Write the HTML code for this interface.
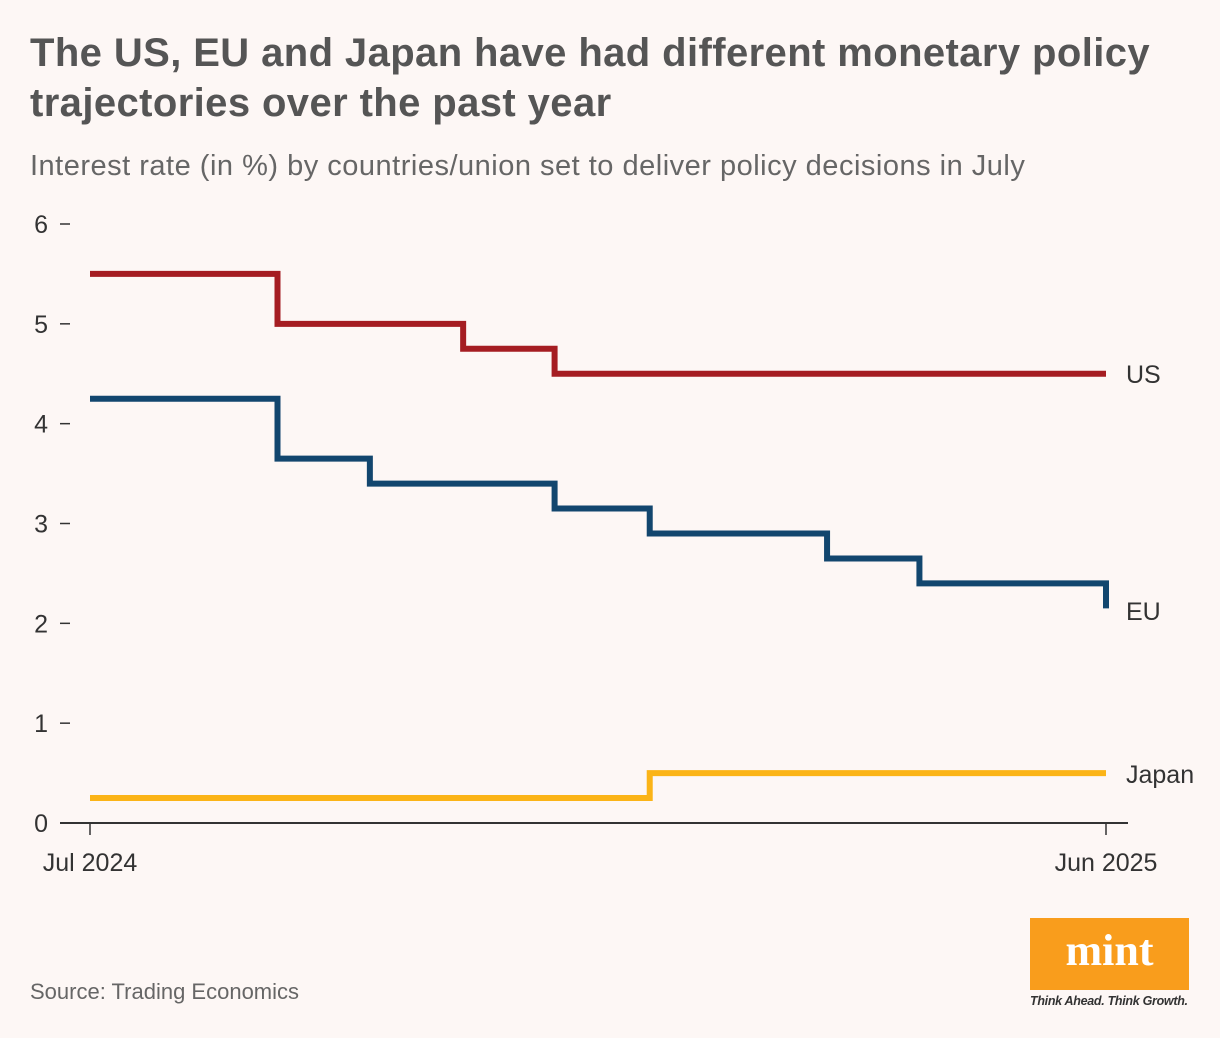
<!DOCTYPE html>
<html><head><meta charset="utf-8"><style>
body{margin:0;background:#fdf7f5;font-family:"Liberation Sans",sans-serif;}
#wrap{position:relative;width:1220px;height:1038px;overflow:hidden;background:#fdf7f5;}
h1{position:absolute;left:30px;top:28px;margin:0;font-size:40px;line-height:50px;font-weight:bold;color:#555;letter-spacing:0.4px;width:1190px;}
.sub{position:absolute;left:30px;top:150px;font-size:29px;color:#666;letter-spacing:0.5px;white-space:nowrap;}
.src{position:absolute;left:30px;top:979px;font-size:22px;color:#666;}
.logo{position:absolute;left:1030px;top:918px;width:159px;height:72px;background:#f99d1c;color:#fff;font-family:"Liberation Serif",serif;font-weight:bold;font-size:44px;text-align:center;line-height:66px;}
.tag{position:absolute;left:1030px;top:994px;font-size:12.5px;font-style:italic;font-weight:bold;color:#333;letter-spacing:-0.3px;}
svg{position:absolute;left:0;top:0;}
</style></head><body>
<div id="wrap">
<h1>The US, EU and Japan have had different monetary policy trajectories over the past year</h1>
<div class="sub">Interest rate (in %) by countries/union set to deliver policy decisions in July</div>
<svg id="chart" width="1220" height="1038"></svg>
<div class="src">Source: Trading Economics</div>
<div class="logo">mint</div>
<div class="tag">Think Ahead. Think Growth.</div>
</div>
<script>
const yTicks=[0,1,2,3,4,5,6];
const xTickLabels=["Jul 2024","Jun 2025"];
const xTickValues=[0,11];
const usX=[0,2.03,4.04,5.03,11];
const usY=[5.5,5.0,4.75,4.5,4.5];
const euX=[0,2.03,3.03,5.03,6.06,7.98,8.98,11,11];
const euY=[4.25,3.65,3.4,3.15,2.9,2.65,2.4,2.4,2.15];
const jpX=[0,6.06,11];
const jpY=[0.25,0.5,0.5];

const svg=document.getElementById('chart');
const NS='http://www.w3.org/2000/svg';
const xs=v=>90+v*(1106-90)/11;
const ys=v=>823-v*(823-224)/6;
function mk(t,a){const e=document.createElementNS(NS,t);for(const k in a)e.setAttribute(k,a[k]);svg.appendChild(e);return e;}

yTicks.forEach(t=>{
  const l=mk('line',{x1:60,x2:70,y1:ys(t),y2:ys(t),stroke:'#333','stroke-width':1.5});
  
  
  const tx=mk('text',{x:48,y:ys(t)+9,'text-anchor':'end','font-size':25,fill:'#333','font-family':'Liberation Sans, sans-serif'});
  tx.textContent=t;
  
  
});
const ax=mk('line',{x1:60,x2:1128,y1:823,y2:823,stroke:'#333','stroke-width':2});


xTickValues.forEach((v,i)=>{
  const l=mk('line',{x1:xs(v),x2:xs(v),y1:823,y2:835,stroke:'#333','stroke-width':1.5});
  
  
  const tx=mk('text',{x:xs(v),y:871,'text-anchor':'middle','font-size':25,fill:'#333','font-family':'Liberation Sans, sans-serif'});
  tx.textContent=xTickLabels[i];
  
  
});
function step(X,Y,color,name,label,ly){
  let d='M'+xs(X[0])+','+ys(Y[0]);
  for(let i=1;i<X.length;i++){d+=' H'+xs(X[i])+' V'+ys(Y[i]);}
  const p=mk('path',{d:d,fill:'none',stroke:color,'stroke-width':6,'stroke-linejoin':'miter'});
  
  
  const t=mk('text',{x:1126,y:ly,'font-size':25,fill:'#333','font-family':'Liberation Sans, sans-serif'});
  t.textContent=label;
  
  
}
step(usX,usY,'#a51d22','us','US',383);
step(euX,euY,'#12466e','eu','EU',620);
step(jpX,jpY,'#fbb417','japan','Japan',783);
</script>
</body></html>
